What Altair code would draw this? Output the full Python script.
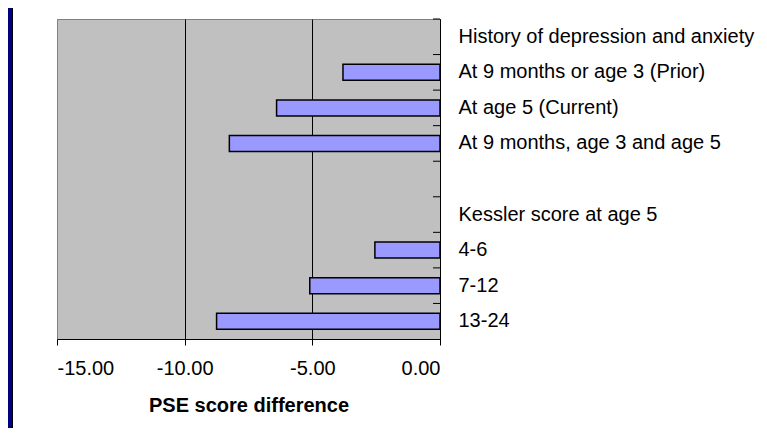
import altair as alt
import pandas as pd

categories = [
    "History of depression and anxiety",
    "At 9 months or age 3 (Prior)",
    "At age 5 (Current)",
    "At 9 months, age 3 and age 5",
    " ",
    "Kessler score at age 5",
    "4-6",
    "7-12",
    "13-24",
]
values = [None, -3.8, -6.4, -8.25, None, None, -2.55, -5.1, -8.75]
x_ticks = [-15, -10, -5, 0]

df = pd.DataFrame({"category": categories, "value": values})

FONT = "Liberation Sans"
W, H = 383, 320

yscale = alt.Scale(domain=categories, paddingInner=0, paddingOuter=0)

bars = alt.Chart(df).mark_bar(
    color="#9999FF", stroke="black", strokeWidth=1.5, size=16
).encode(
    x=alt.X(
        "value:Q",
        scale=alt.Scale(domain=[-15, 0], nice=False, zero=False),
        axis=alt.Axis(
            values=x_ticks,
            labelExpr="datum.value + '.00'",
            title="PSE score difference",
            grid=True,
            gridColor={"condition": {"test": "datum.value == -15", "value": "#808080"}, "value": "black"},
            gridWidth=1,
            domainColor="black",
            tickColor="black",
            tickSize=6,
            labelFontSize=20,
            labelFont=FONT,
            labelColor="black",
            labelPadding=13,
            titleFontSize=20,
            titleFont=FONT,
            titleFontWeight="bold",
            titleColor="black",
            titlePadding=17,
        ),
    ),
    y=alt.Y(
        "category:N",
        sort=categories,
        scale=yscale,
        axis=alt.Axis(
            orient="right",
            title=None,
            ticks=False,
            domainColor="black",
            labelFontSize=20,
            labelFont=FONT,
            labelColor="black",
            labelAlign="left",
            labelPadding=18,
            labelLimit=400,
        ),
    ),
)

ticks = alt.Chart(df).mark_rule(color="black", strokeWidth=1).encode(
    y=alt.Y("category:N", sort=categories, scale=yscale, bandPosition=0),
    x=alt.value(W - 7),
    x2=alt.value(W),
)

edge = pd.DataFrame({"k": [1]})
strip = alt.Chart(edge).mark_rect(color="#000080").encode(
    x=alt.value(-49), x2=alt.value(-45), y=alt.value(-11), y2=alt.value(H + 89)
)
strip_line = alt.Chart(edge).mark_rule(color="black", strokeWidth=1).encode(
    x=alt.value(-44.5), y=alt.value(-11), y2=alt.value(H + 89)
)

chart = alt.layer(strip, strip_line, bars, ticks).properties(
    width=W,
    height=H,
    autosize="none",
    padding={"left": 49, "top": 11, "right": 319, "bottom": 89},
    background="white",
).configure(font=FONT).configure_view(
    fill="#C0C0C0", stroke="#808080", strokeWidth=1
)

chart.save("out.html", embed_options={"renderer": "svg", "actions": False})
